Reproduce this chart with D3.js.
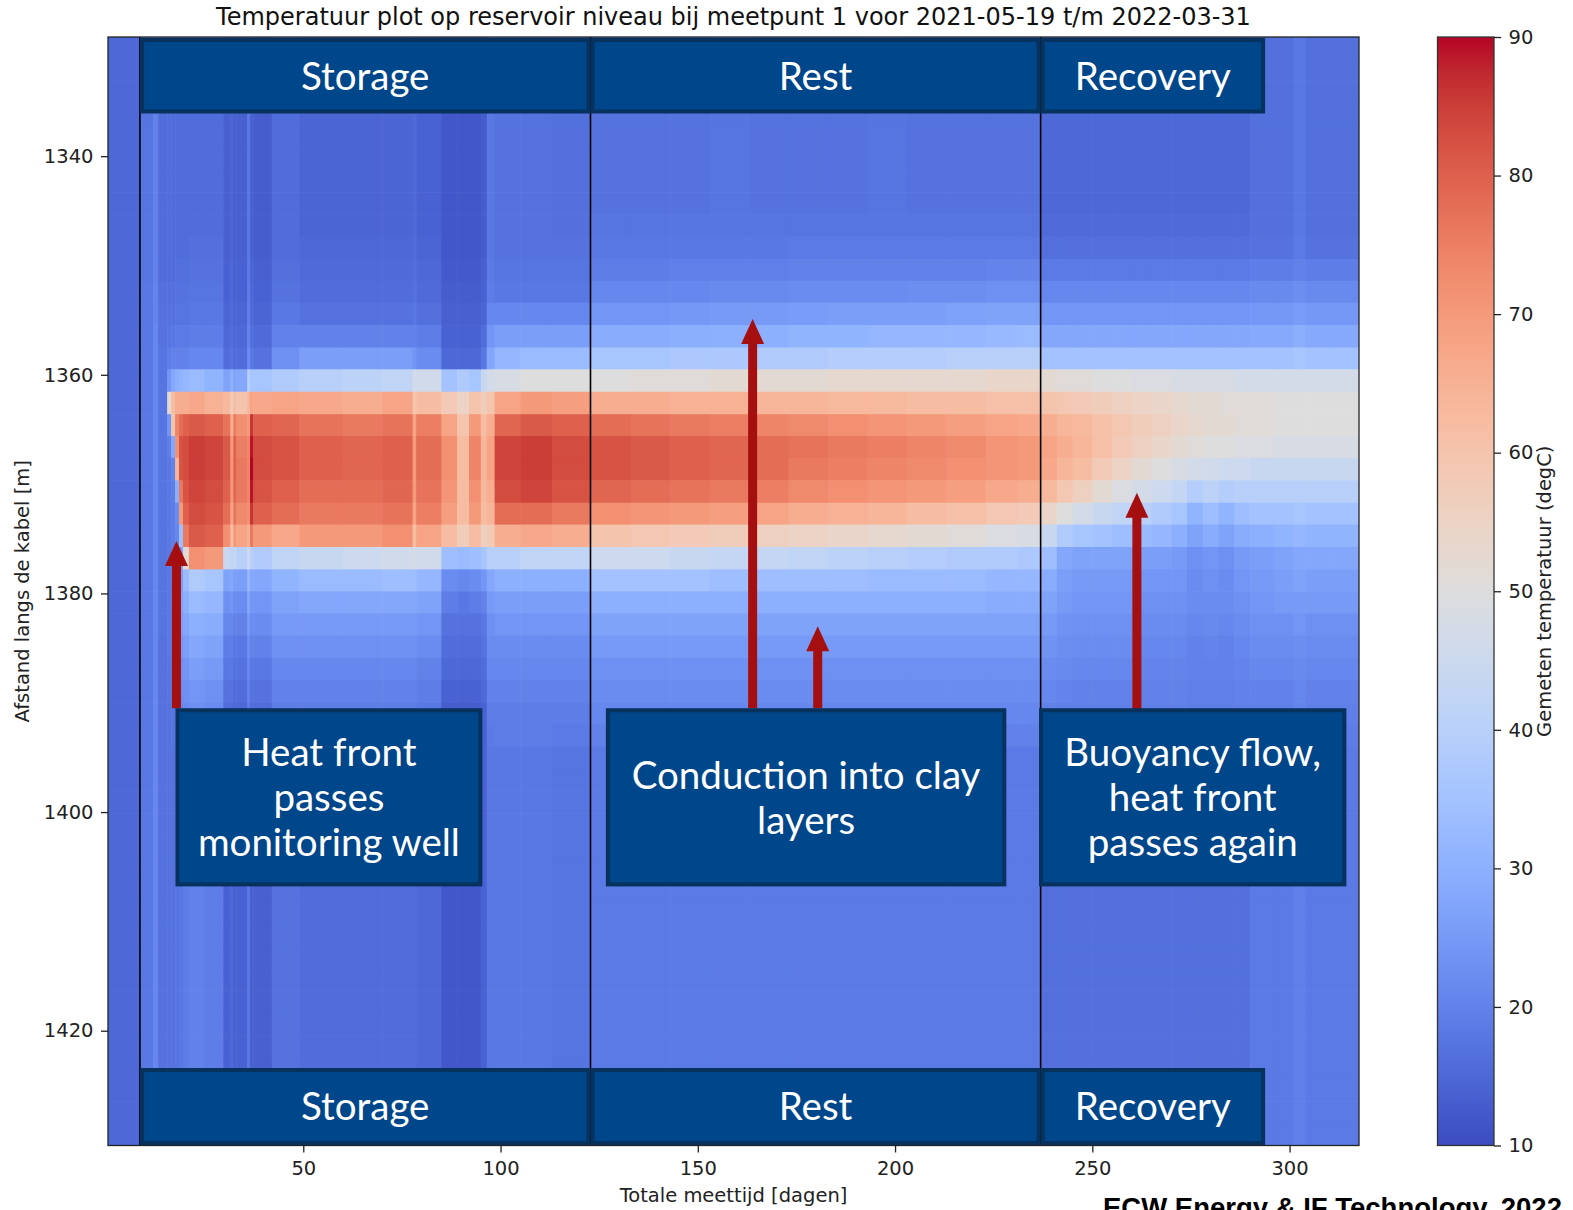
<!DOCTYPE html>
<html>
<head>
<meta charset="utf-8">
<script src="https://cdn.jsdelivr.net/npm/d3@7"></script>
<style>
  body { margin: 0; background: #fff; }
  svg { display: block; }
</style>
</head>
<body>
<svg id="chart" width="1573" height="1210"></svg>
<script>
// ---- data -----------------------------------------------------------------
// Cable distance of each measurement row (m), fibre sampled every ~2.03 m
const depthRows = [1330.1, 1332.1, 1334.2, 1336.2, 1338.2, 1340.3, 1342.3, 1344.3, 1346.3, 1348.4,
  1350.4, 1352.4, 1354.4, 1356.5, 1358.5, 1360.5, 1362.6, 1364.6, 1366.6, 1368.6,
  1370.7, 1372.7, 1374.7, 1376.8, 1378.8, 1380.8, 1382.8, 1384.9, 1386.9, 1388.9,
  1391.0, 1393.0, 1395.0, 1397.1, 1399.1, 1401.1, 1403.1, 1405.2, 1407.2, 1409.2,
  1411.2, 1413.3, 1415.3, 1417.3, 1419.4, 1421.4, 1423.4, 1425.4, 1427.5, 1429.5];

// Rows 0-7 (above 1345 m) and rows 32-49 (below 1394 m) share one value per time column;
// rows 8-31 (1346-1393 m) are listed individually.
const upperRows = 8, lowerRowStart = 32;

// Storage phase (incl. first measurement): column start days
const storageDays = [0.5, 8.6, 11.9, 13.2, 15.5, 16.5, 17.5, 18.5, 19.5, 21, 25, 29.7, 31.5, 32.3, 33, 35.8, 36.5,
  37.3, 42, 49, 60, 70, 77.7, 78.6, 85, 89, 92, 95, 96.5, 98.5, 105, 113];
const storageUpper = [15, 17.5, 20, 16, 16, 16, 16, 16, 16, 16, 16, 13.5, 14.5, 13.5, 13.5, 18, 14,
  13, 16, 14.5, 14.5, 14.5, 15.5, 14, 12, 12, 12, 13, 18, 17, 17, 16.5];
const storageLower = [15, 18, 21, 17, 17, 17, 17.5, 18, 19, 20, 19, 14, 15, 14, 14, 18, 13.5,
  13.5, 17, 16, 16, 16, 16, 15, 12, 12, 12, 14, 18, 18, 18, 17.5];
const storageBand = [
  [15,15,15,15,15,15, 15,15,15,15,15,15,15,15,15,15, 15,15,15,15,15,15,15,15],
  [17.5,17.5,17.5,18,18,18, 18,18,18,18,18,18,18,18,18,18, 18,18,18,18,18,18,18,18],
  [20,20,20,20.5,20.5,21, 21,21,21,21,21,21,21,21,21,21, 21,21,21,21,21,21,21,21],
  [16,16,16,16.5,17,17, 17.5,17.5,17.5,17.5,17.5,17.5,17.5,17.5,17.5,17.5, 17.5,17.5,17.5,17,17,17,17,17],
  [16,16,16,16.5,17,17.5, 19,24,52,24,19,18,18,18,18,18, 18,18,18,18,17.5,17.5,17,17],
  [16,16,16,16.5,17,18, 20,28,62,60,28,20,19,19,19,19, 19,19,18.5,18.5,18,18,17.5,17.5],
  [16,16,16.5,17,17.5,18.5, 20,30,66,74,72,64,30,22,21,21, 22,22,21.5,21,20.5,20,19,18.5],
  [16,16,16.5,17,17.5,18.5, 20,31,66,78,82,82,76,70,34,26, 26,27,26,24,23,22,21,20],
  [16,16,16.5,17,17.5,18.5, 20,32,66,80,83,83,82,80,76,52, 33,30,28,26,24,23,22,21],
  [16,16.5,17,17.5,18,19, 21,33,67,81,85,85,84,83,81,72, 38,33,30,28,26,24,23,22],
  [16,16.5,17,17.5,18,19, 21,31,65,80,84,84,83,82,80,70, 36,32,29,27,25,23,22,21],
  [13.5,13.5,14,14,14.5,15, 16,27,63,77,81,81,80,78,72,44, 27,23,21,19,18,17,16,15],
  [14.5,14.5,15,15,15.5,16, 17,30,58,66,70,71,71,68,62,42, 28,24,21,19,18,17,16,15.5],
  [13.5,13.5,14,14,14.5,15, 16,27,62,76,80,80,79,77,71,43, 26,22,20,18,17,16,15,15],
  [13.5,13.5,14,14,14.5,15, 16,28,60,72,75,76,76,73,68,40, 26,22,20,18,17,16,15,15],
  [18,18,18.5,19,19.5,20.5, 22,40,64,70,74,74,74,72,65,45, 32,28,25,23,21,20,19,19],
  [14,14,14.5,15,15.5,16.5, 18,36,68,86,89,90,89,86,76,40, 28,24,22,20,18,17,16,15],
  [13,13,13.5,14,14.5,15.5, 17,36,67,80,83,83,82,80,70,38, 28,24,22,20,18,17,16,15],
  [16,16,16.5,17,18,20, 23,38,68,79,82,82,80,78,67,42, 31,27,25,23,21,20,19,18],
  [14.5,15,15.5,16,17,20, 26,40,67,77,80,80,78,76,70,44, 33,28,25,23,21,20,19,18],
  [14.5,15,15.5,16,17,20, 26,41,66,76,79,79,78,76,70,45, 33,28,25,23,21,20,19,18],
  [14.5,15,15.5,16,17,20, 26,42,68,77,80,80,79,77,72,46, 34,28,25,23,21,20,19,18],
  [15.5,16,16.5,17,18,20, 24,47,60,68,70,70,70,68,62,47, 34,28,25,23,21,20,19,18],
  [14,14.5,15,15.5,16.5,19, 22,46,62,75,78,78,77,75,68,46, 32,27,24,22,20,19,18,17],
  [12,12,12.5,13,13.5,14, 15,35,58,68,72,72,71,69,62,34, 22,19,17,16,15,14,13,13],
  [12,12,12.5,13,13.5,14, 15,38,55,60,62,62,62,62,57,33, 21,18,17,16,15,14,13,13],
  [12,12,12.5,13,13.5,14, 15,36,60,70,74,74,72,70,62,34, 22,19,17,16,15,14,13,13],
  [13,13,13.5,14,14.5,16, 18,44,57,62,64,64,63,62,56,36, 24,20,18,17,16,15,14,14],
  [18,18,18.5,19,21,24, 28,47,60,66,68,68,66,64,58,40, 28,25,23,22,21,20,19,18.5],
  [17,17,17.5,18,21,26, 32,48,68,79,84,84,83,78,66,40, 30,26,24,22,21,20,19,19],
  [17,17,17.5,18,21,26, 33,50,70,81,85,85,84,78,67,42, 30,26,24,22,21,20,19,19],
  [16.5,17,17.5,18,21,26, 33,50,69,80,83,83,82,76,66,42, 30,26,24,22,21,20,19,18.5]
];

// Rest phase
const restDays = [122.8, 133, 143, 153, 163, 173, 183, 193, 203, 213, 223, 231];
const restUpper = [17, 17, 17, 17.5, 17, 17, 17, 17.5, 17, 17, 17, 17];
const restLower = [18.5, 18.5, 18.5, 18.5, 18.5, 18.5, 18.5, 18.5, 18.5, 18.5, 18.5, 18.5];
const restBand = [
  [17.5,18,19,21,24,29, 36,50,66,78,82,82,79,72,60,45, 35,30,27,25,23,22,21,20],
  [17.5,18,19,21,24,29, 36,51,66,77,81,81,78,71,59,45, 35,30,27,25,23,22,21,20],
  [17.5,18,19.5,21,24.5,29.5, 37,51,65,76,80,80,77,70,58,44, 35,30,27,25,23,22,21,20],
  [17.5,18,19.5,21.5,25,30, 37,52,65,75,79,79,76,69,57,43, 34,30,27,25,23,22,21,20],
  [17.5,18,19.5,21.5,25,30, 38,52,64,74,78,78,75,68,56,43, 34,30,27,25,23,22,21,20],
  [17.5,18.5,20,22,25.5,31, 38,52,64,73,77,76,73,66,55,42, 34,30,27,25,23,22,21,20],
  [17.5,18.5,20,22,26,31, 39,53,63,72,76,75,72,65,54,41, 34,30,27,25,23,22,21,20],
  [17.5,18.5,20,22,26,31.5, 39,53,63,71,75,74,71,64,53,40, 33,30,27,25,23,22,21,20],
  [17.5,18.5,20,22.5,26,32, 39,53,62,70,74,73,70,62,52,39, 33,30,27,25,23,22,21,20],
  [17.5,18.5,20,22.5,26.5,32, 40,53,62,69,73,72,69,61,51,38, 33,30,27,25,23,22,21,20],
  [17.5,18.5,20.5,23,27,32.5, 40,54,61,68,71,71,67,59,49,38, 32,29,27,25,23,22,21,20],
  [17.5,18.5,20.5,23,27,33, 40,54,61,67,70,70,66,58,48,37, 32,29,27,25,23,22,21,20]
];

// Recovery phase
const recoveryDays = [236.9, 241, 245, 250, 255, 260, 265, 270, 274, 278, 282, 286, 290, 296, 301, 304, 310];
const recoveryUpper = [15, 15, 15, 15, 15, 15, 15, 15, 15, 15, 15, 15, 16.5, 16.5, 18, 16.5, 16.5];
const recoveryLower = [16.5, 16.5, 16.5, 16.5, 16.5, 16.5, 16.5, 16.5, 16.5, 16.5, 16.5, 16.5, 18.5, 18.5, 19.5, 18.5, 18.5];
const recoveryBand = [
  [15.5,16.5,18.5,21,24,28, 35,52,60,66,68,67,63,54,44,34, 29,27,25,23.5,22,21,20,19],
  [15.5,16.5,18.5,21,24,28, 35,51,59,64,66,64,59,50,38,28, 26,25,23.5,22.5,21.5,20.5,19.5,19],
  [15.5,16.5,18.5,21,24,28, 35,51,58,63,64,62,56,47,36,27, 25,24,23,22,21,20,19.5,19],
  [15.5,16.5,18.5,21,24,28, 35,50,57,61,61,58,52,44,35,27, 25,24,23,22,21,20,19.5,19],
  [15.5,16.5,18.5,21,24,28, 35,50,56,59,58,55,49,42,34,27, 25,24,23,22,21,20,19.5,19],
  [15.5,16.5,18.5,21,24,28, 35,49,55,57,56,52,47,40,33,26, 24,23,22,21,20.5,20,19.5,19],
  [15.5,16.5,18.5,21,24,28, 35,49,54,56,54,50,45,38,32,26, 24,23,22,21,20.5,20,19.5,19],
  [15.5,16.5,18.5,21,24,28, 35,48,53,54,52,48,43,36,30,25, 24,23,22,21,20.5,20,19.5,19],
  [15.5,16.5,18.5,21,24,28, 35,48,52,53,51,47,39,31,27,23, 22,22,21,20,20,19.5,19,18.5],
  [15.5,16.5,18.5,21,24,28, 35,48,52,52,50,46,41,34,29,24, 23,22,21.5,20.5,20,19.5,19,18.5],
  [15.5,16.5,18.5,21,24,28, 35,48,51,52,50,45,39,31,27,23, 22,22,21,20,20,19.5,19,18.5],
  [15.5,16.5,18.5,21,24,28, 35,47,51,51,49,45,40,34,29,25, 24,23,22,21,20.5,20,19.5,19],
  [16.5,17,19,21.5,24.5,28.5, 35,47,51,51,49,44,40,35,30,26, 25,24,23,22,21,20,19.5,19],
  [16.5,17,19,21.5,24.5,28.5, 35,47,50,50,48,44,40,35,31,27, 26,25,23,22,21,20,19.5,19],
  [18,18.5,20,22.5,25.5,29.5, 36,47,50,50,48,44,40,36,32,28, 27,25,24,22.5,21.5,21,20.5,20],
  [16.5,17,19,21.5,24.5,28.5, 35,47,50,50,48,44,40,35,31,28, 26,25,23,22,21,20,19.5,19],
  [16.5,17,19,21.5,24.5,28.5, 35,47,50,50,48,44,40,35,31,28, 26,25,23,22,21,20,19.5,19]
];
const lastDay = 317.6;

// Phase boundaries and labels
const phases = [
  { label: "Storage", from: 8.6, to: 122.8 },
  { label: "Rest", from: 122.8, to: 236.9 },
  { label: "Recovery", from: 236.9, to: 293.8 }
];
const phaseLines = [8.6, 122.8, 236.9];

// Callouts (day / depth coordinates)
const callouts = [
  { lines: ["Heat front", "passes", "monitoring well"], x0: 17.6, x1: 95.4, d0: 1390.5, d1: 1406.8 },
  { lines: ["Conduction into clay", "layers"], x0: 126.7, x1: 228.2, d0: 1390.5, d1: 1406.8 },
  { lines: ["Buoyancy flow,", "heat front", "passes again"], x0: 236.5, x1: 314.4, d0: 1390.5, d1: 1406.8 }
];
const arrows = [
  { day: 17.85, from: 1390.5, to: 1375.2 },
  { day: 163.9, from: 1390.5, to: 1354.9 },
  { day: 180.4, from: 1390.5, to: 1383.0 },
  { day: 261.3, from: 1391.5, to: 1370.8 }
];

const xTicks = [50, 100, 150, 200, 250, 300];
const yTicks = [1340, 1360, 1380, 1400, 1420];
const cbTicks = [10, 20, 30, 40, 50, 60, 70, 80, 90];

// coolwarm colormap (Moreland), 33 samples
const coolwarm = [[59,76,192],[68,90,204],[77,104,215],[87,117,225],[98,130,234],[108,142,241],
  [119,154,247],[130,165,251],[141,176,254],[152,185,255],[163,194,255],[174,201,253],[184,208,249],
  [194,213,244],[204,217,238],[213,219,230],[221,221,221],[229,216,209],[236,211,197],[241,204,185],
  [245,196,173],[247,187,160],[247,177,148],[247,166,135],[244,154,123],[241,141,111],[236,127,99],
  [229,112,88],[222,96,77],[213,80,66],[203,62,56],[192,40,47],[180,4,38]];

// ---- layout ---------------------------------------------------------------
const svg = d3.select("#chart");
const plot = { left: 108, right: 1359, top: 37, bottom: 1145.5 };
const fontMpl = "'DejaVu Sans', sans-serif";

const x = d3.scaleLinear().domain([0.5, lastDay]).range([plot.left, plot.right]);
const y = d3.scaleLinear().domain([1329.1, 1430.5]).range([plot.top, plot.bottom]);
const tMin = 10, tMax = 90;
const color = d3.scaleLinear()
  .domain(coolwarm.map((_, i) => tMin + (tMax - tMin) * i / (coolwarm.length - 1)))
  .range(coolwarm.map(c => d3.rgb(c[0], c[1], c[2])))
  .interpolate(d3.interpolateRgb)
  .clamp(true);

// assemble columns
const colDays = [...storageDays, ...restDays, ...recoveryDays];
const colUpper = [...storageUpper, ...restUpper, ...recoveryUpper];
const colLower = [...storageLower, ...restLower, ...recoveryLower];
const colBand = [...storageBand, ...restBand, ...recoveryBand];
const dayEdges = [...colDays, lastDay];

// row edges halfway between sample depths
const rowEdges = depthRows.map((d, i) => i === 0 ? d - (depthRows[1] - d) / 2 : (depthRows[i - 1] + d) / 2);
rowEdges.push(depthRows[depthRows.length - 1] + (depthRows[depthRows.length - 1] - depthRows[depthRows.length - 2]) / 2);

function tempAt(c, r) {
  if (r < upperRows) return colUpper[c];
  if (r >= lowerRowStart) return colLower[c];
  return colBand[c][r - upperRows];
}

const cells = [];
colDays.forEach((d, c) => {
  depthRows.forEach((_, r) => {
    cells.push({ x0: dayEdges[c], x1: dayEdges[c + 1], d0: rowEdges[r], d1: rowEdges[r + 1], t: tempAt(c, r) });
  });
});

const defs = svg.append("defs");
defs.append("clipPath").attr("id", "plotClip")
  .append("rect").attr("x", plot.left).attr("y", plot.top)
  .attr("width", plot.right - plot.left).attr("height", plot.bottom - plot.top);

const heat = svg.append("g").attr("clip-path", "url(#plotClip)");
heat.selectAll("rect").data(cells).join("rect")
  .attr("x", d => x(d.x0))
  .attr("y", d => y(d.d0))
  .attr("width", d => x(d.x1) - x(d.x0) + 0.6)
  .attr("height", d => y(d.d1) - y(d.d0) + 0.6)
  .attr("fill", d => color(d.t));

// phase boundary lines
heat.selectAll("line.phase").data(phaseLines).join("line")
  .attr("class", "phase")
  .attr("x1", d => x(d)).attr("x2", d => x(d))
  .attr("y1", plot.top).attr("y2", plot.bottom)
  .attr("stroke", "#000").attr("stroke-width", 1.6);

// axes frame
svg.append("rect")
  .attr("x", plot.left).attr("y", plot.top)
  .attr("width", plot.right - plot.left).attr("height", plot.bottom - plot.top)
  .attr("fill", "none").attr("stroke", "#222").attr("stroke-width", 1.3);

function styleAxis(g) {
  g.select(".domain").remove();
  g.selectAll(".tick line").attr("stroke", "#222").attr("stroke-width", 1.3);
  g.selectAll(".tick text").attr("fill", "#222").style("font-family", fontMpl).style("font-size", "19.5px");
}

svg.append("g").attr("transform", `translate(0,${plot.bottom})`)
  .call(d3.axisBottom(x).tickValues(xTicks).tickSize(7).tickPadding(8.5).tickFormat(d3.format("d")))
  .call(styleAxis);
svg.append("g").attr("transform", `translate(${plot.left},0)`)
  .call(d3.axisLeft(y).tickValues(yTicks).tickSize(7).tickPadding(7.5).tickFormat(d3.format("d")))
  .call(styleAxis);

// titles
svg.append("text").attr("x", (plot.left + plot.right) / 2).attr("y", 25)
  .attr("text-anchor", "middle").style("font-family", fontMpl).style("font-size", "24px").attr("fill", "#111")
  .text("Temperatuur plot op reservoir niveau bij meetpunt 1 voor 2021-05-19 t/m 2022-03-31");
svg.append("text").attr("x", (plot.left + plot.right) / 2).attr("y", 1202)
  .attr("text-anchor", "middle").style("font-family", fontMpl).style("font-size", "19.5px").attr("fill", "#222")
  .text("Totale meettijd [dagen]");
svg.append("text").attr("transform", `translate(29,${(plot.top + plot.bottom) / 2}) rotate(-90)`)
  .attr("text-anchor", "middle").style("font-family", fontMpl).style("font-size", "19.5px").attr("fill", "#222")
  .text("Afstand langs de kabel [m]");

// colorbar
const cb = { left: 1437.5, right: 1494, top: plot.top, bottom: plot.bottom };
const grad = defs.append("linearGradient").attr("id", "cbGrad")
  .attr("x1", 0).attr("y1", 1).attr("x2", 0).attr("y2", 0);
coolwarm.forEach((c, i) => {
  grad.append("stop").attr("offset", i / (coolwarm.length - 1)).attr("stop-color", `rgb(${c[0]},${c[1]},${c[2]})`);
});
svg.append("rect").attr("x", cb.left).attr("y", cb.top)
  .attr("width", cb.right - cb.left).attr("height", cb.bottom - cb.top)
  .attr("fill", "url(#cbGrad)").attr("stroke", "#333").attr("stroke-width", 1.3);
const cbScale = d3.scaleLinear().domain([tMin, tMax]).range([cb.bottom, cb.top]);
svg.append("g").attr("transform", `translate(${cb.right},0)`)
  .call(d3.axisRight(cbScale).tickValues(cbTicks).tickSize(7).tickPadding(7.5).tickFormat(d3.format("d")))
  .call(styleAxis);
svg.append("text").attr("transform", `translate(1551,${(cb.top + cb.bottom) / 2}) rotate(-90)`)
  .attr("text-anchor", "middle").style("font-family", fontMpl).style("font-size", "19.5px").attr("fill", "#222")
  .text("Gemeten temperatuur (degC)");

// phase label boxes (top and bottom of the plot)
const boxFill = "#00468a", boxEdge = "#08325e", boxFont = "Lato, 'Open Sans', sans-serif";
const bandRows = [{ y0: 38, y1: 113.5 }, { y0: 1068, y1: 1145 }];
bandRows.forEach(b => {
  const g = svg.append("g");
  g.selectAll("rect").data(phases).join("rect")
    .attr("x", d => x(d.from) + 2).attr("y", b.y0 + 2)
    .attr("width", d => x(d.to) - x(d.from) - 4).attr("height", b.y1 - b.y0 - 4)
    .attr("fill", boxFill).attr("stroke", boxEdge).attr("stroke-width", 4);
  g.selectAll("text").data(phases).join("text")
    .attr("x", d => (x(d.from) + x(d.to)) / 2).attr("y", (b.y0 + b.y1) / 2)
    .attr("dy", "0.36em").attr("text-anchor", "middle")
    .style("font-family", boxFont).style("font-size", "38.5px").attr("fill", "#fff")
    .text(d => d.label);
});

// callout arrows
const arrowColor = "#a50f0f";
const ag = svg.append("g");
arrows.forEach(a => {
  const cx = x(a.day), yb = y(a.from), yt = y(a.to);
  const head = 25, halfW = 11.5, shaft = 4.5;
  ag.append("path")
    .attr("d", `M${cx - shaft},${yb} L${cx - shaft},${yt + head} L${cx - halfW},${yt + head} L${cx},${yt} ` +
      `L${cx + halfW},${yt + head} L${cx + shaft},${yt + head} L${cx + shaft},${yb} Z`)
    .attr("fill", arrowColor);
});

// callout boxes
const cg = svg.append("g");
callouts.forEach(c => {
  const bx0 = x(c.x0), bx1 = x(c.x1), by0 = y(c.d0), by1 = y(c.d1);
  cg.append("rect").attr("x", bx0 + 2).attr("y", by0 + 2)
    .attr("width", bx1 - bx0 - 4).attr("height", by1 - by0 - 4)
    .attr("fill", boxFill).attr("stroke", boxEdge).attr("stroke-width", 4);
  const lh = 45, cy = (by0 + by1) / 2, n = c.lines.length;
  c.lines.forEach((ln, i) => {
    cg.append("text").attr("x", (bx0 + bx1) / 2).attr("y", cy + (i - (n - 1) / 2) * lh)
      .attr("dy", "0.36em").attr("text-anchor", "middle")
      .style("font-family", boxFont).style("font-size", "38.5px").attr("fill", "#fff")
      .text(ln);
  });
});

// credit line, running off the lower edge of the figure
svg.append("text").attr("x", 1103).attr("y", 1217)
  .style("font-family", "'Liberation Sans', Arial, sans-serif").style("font-weight", "bold")
  .style("font-size", "27.5px").attr("fill", "#000")
  .text("ECW Energy & IF Technology, 2022");
</script>
</body>
</html>
